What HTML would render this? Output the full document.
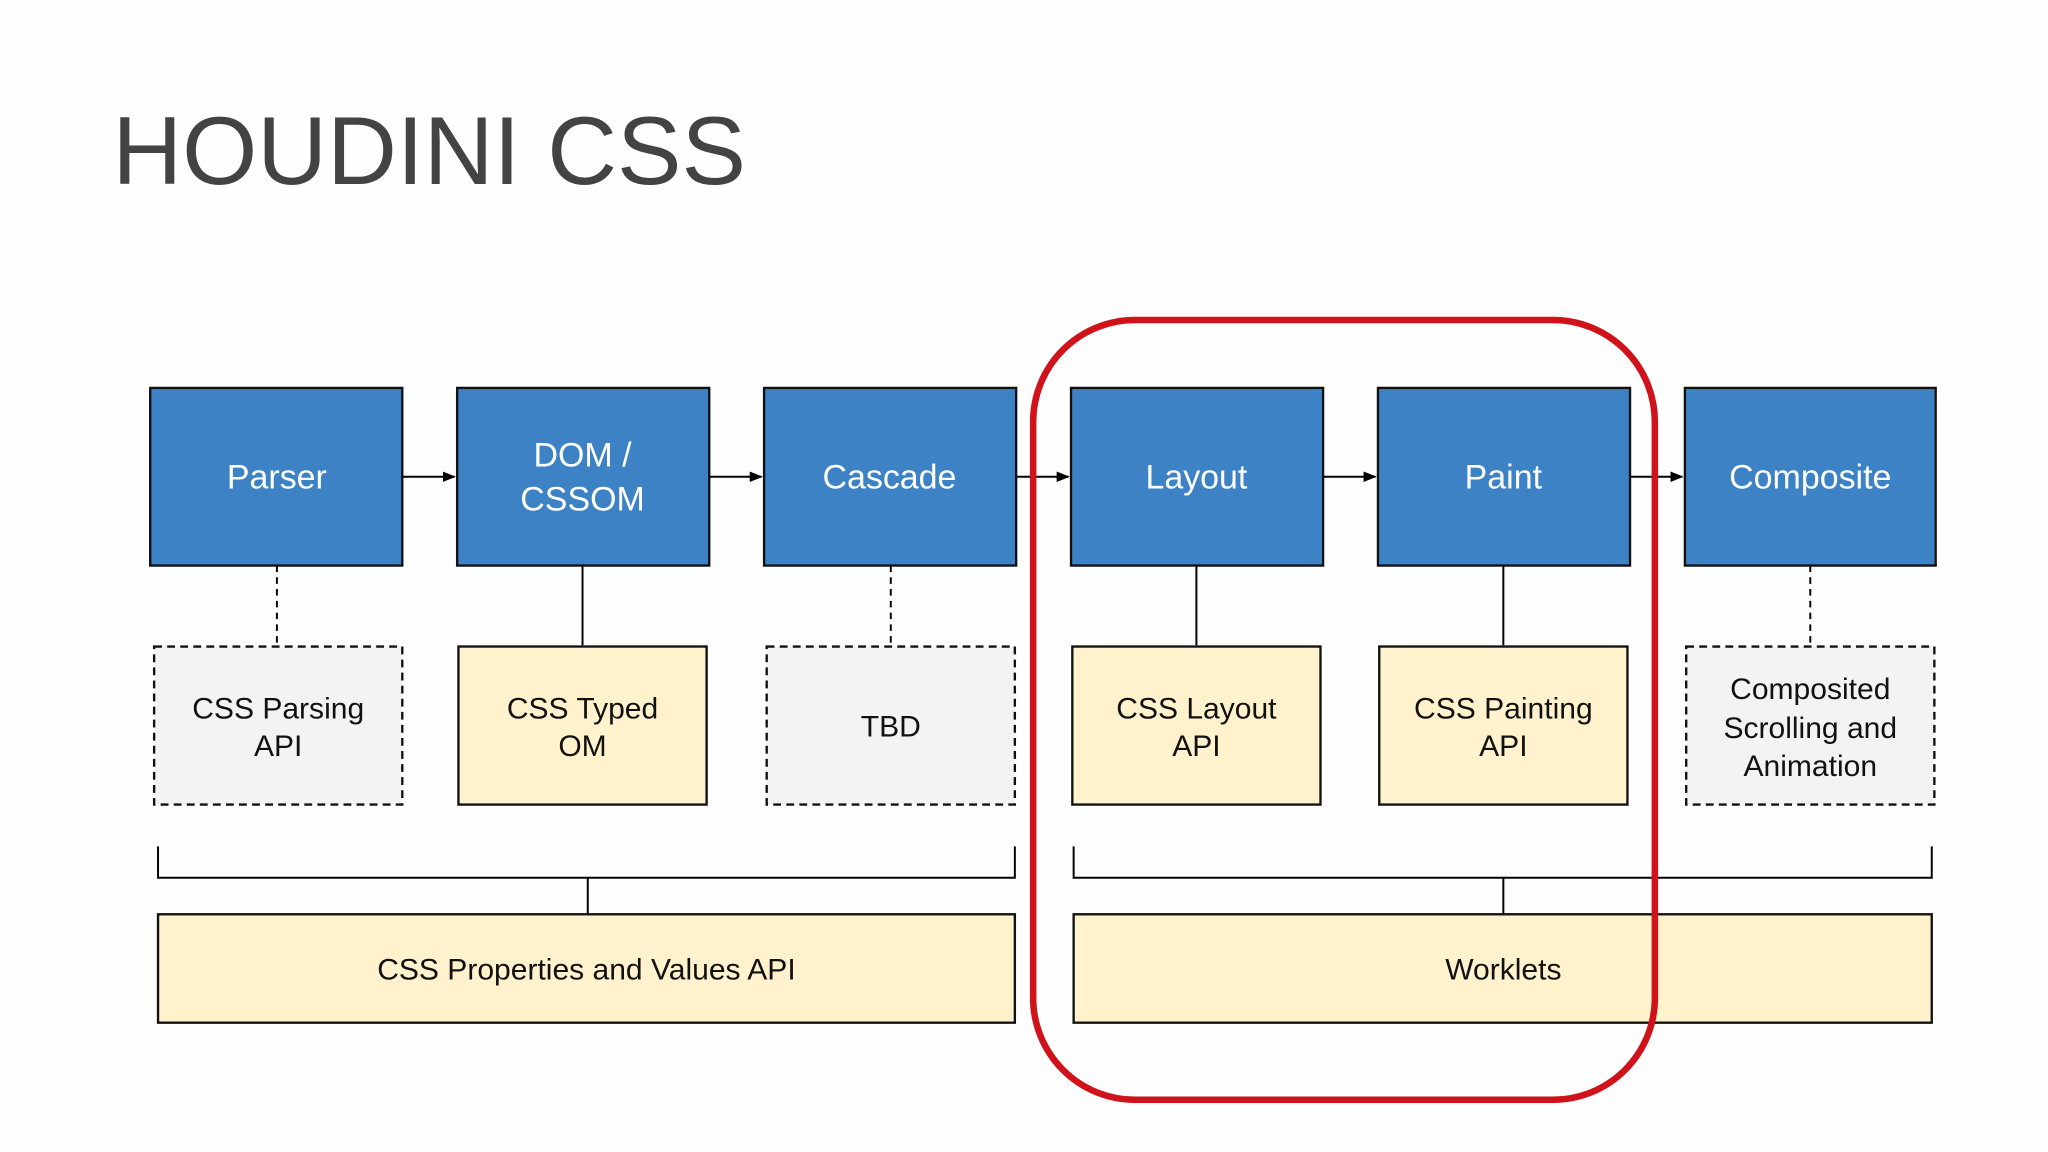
<!DOCTYPE html>
<html><head><meta charset="utf-8"><style>
html,body{margin:0;padding:0;background:#fff;}
svg{display:block;}
text{font-family:"Liberation Sans",Arial,sans-serif;}
</style></head><body>
<svg width="2048" height="1152" viewBox="0 0 1568 882" xmlns="http://www.w3.org/2000/svg">
<defs><marker id="a" markerWidth="10" markerHeight="10" refX="9" refY="5" orient="auto" markerUnits="userSpaceOnUse"><path d="M0,1 L10,5 L0,9 Z" fill="#000"/></marker></defs>
<rect width="1568" height="882" fill="#fefefe"/>
<text x="86" y="141" font-size="74" fill="#434343">HOUDINI CSS</text>
<g stroke="#000" stroke-width="1.5" fill="none">
<line x1="308" y1="365" x2="348" y2="365" marker-end="url(#a)"/>
<line x1="543" y1="365" x2="583" y2="365" marker-end="url(#a)"/>
<line x1="778" y1="365" x2="818" y2="365" marker-end="url(#a)"/>
<line x1="1013" y1="365" x2="1053" y2="365" marker-end="url(#a)"/>
<line x1="1248" y1="365" x2="1288" y2="365" marker-end="url(#a)"/>
<line x1="212" y1="433" x2="212" y2="494" stroke-dasharray="5,4"/>
<line x1="446" y1="433" x2="446" y2="494"/>
<line x1="682" y1="433" x2="682" y2="494" stroke-dasharray="5,4"/>
<line x1="916" y1="433" x2="916" y2="494"/>
<line x1="1151" y1="433" x2="1151" y2="494"/>
<line x1="1386" y1="433" x2="1386" y2="494" stroke-dasharray="5,4"/>
<path d="M121,648 V672 H777 V648 M450,672 V700"/>
<path d="M822,648 V672 H1479 V648 M1151,672 V700"/>
</g>
<g fill="#3d82c4" stroke="#111" stroke-width="1.8">
<rect x="115" y="297" width="193" height="136"/>
<rect x="350" y="297" width="193" height="136"/>
<rect x="585" y="297" width="193" height="136"/>
<rect x="820" y="297" width="193" height="136"/>
<rect x="1055" y="297" width="193" height="136"/>
<rect x="1290" y="297" width="192" height="136"/>
</g>
<g fill="#fff" font-size="26" text-anchor="middle">
<text x="212" y="374">Parser</text>
<text x="446" y="357">DOM /</text>
<text x="446" y="391">CSSOM</text>
<text x="681" y="374">Cascade</text>
<text x="916" y="374">Layout</text>
<text x="1151" y="374">Paint</text>
<text x="1386" y="374">Composite</text>
</g>
<g stroke="#111" stroke-width="1.8">
<rect x="118" y="495" width="190" height="121" fill="#f3f3f3" stroke-dasharray="6,4"/>
<rect x="351" y="495" width="190" height="121" fill="#fff2cc"/>
<rect x="587" y="495" width="190" height="121" fill="#f3f3f3" stroke-dasharray="6,4"/>
<rect x="821" y="495" width="190" height="121" fill="#fff2cc"/>
<rect x="1056" y="495" width="190" height="121" fill="#fff2cc"/>
<rect x="1291" y="495" width="190" height="121" fill="#f3f3f3" stroke-dasharray="6,4"/>
<rect x="121" y="700" width="656" height="83" fill="#fff2cc"/>
<rect x="822" y="700" width="657" height="83" fill="#fff2cc"/>
</g>
<g fill="#111" font-size="23" text-anchor="middle">
<text x="213" y="550">CSS Parsing</text>
<text x="213" y="579">API</text>
<text x="446" y="550">CSS Typed</text>
<text x="446" y="579">OM</text>
<text x="682" y="564">TBD</text>
<text x="916" y="550">CSS Layout</text>
<text x="916" y="579">API</text>
<text x="1151" y="550">CSS Painting</text>
<text x="1151" y="579">API</text>
<text x="1386" y="535">Composited</text>
<text x="1386" y="565">Scrolling and</text>
<text x="1386" y="594">Animation</text>
<text x="449" y="750">CSS Properties and Values API</text>
<text x="1151" y="750">Worklets</text>
</g>
<rect x="791" y="245" width="476" height="597" rx="78" ry="78" fill="none" stroke="#d0121b" stroke-width="5"/>
</svg>
</body></html>
